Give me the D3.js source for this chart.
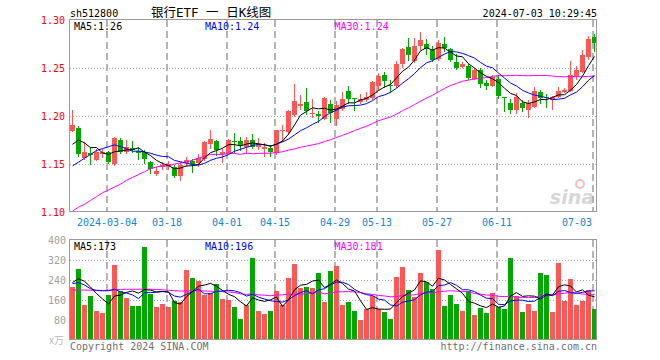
<!DOCTYPE html>
<html><head><meta charset="utf-8">
<script src="https://cdn.jsdelivr.net/npm/d3@7/dist/d3.min.js"></script>
<style>body{margin:0;background:#fff}svg{display:block}</style>
</head><body><svg id="c" width="660" height="360"></svg>
<script>
// ---- data ----
const opens = [1.184,1.187,1.156,1.161,1.154,1.160,1.162,1.150,1.175,1.163,1.167,1.164,1.162,1.152,1.140,1.147,1.148,1.147,1.137,1.151,1.153,1.151,1.155,1.171,1.174,1.160,1.161,1.174,1.174,1.168,1.175,1.168,1.1656,1.167,1.161,1.184,1.183,1.201,1.210,1.215,1.203,1.202,1.197,1.212,1.197,1.207,1.226,1.219,1.215,1.217,1.219,1.231,1.243,1.232,1.231,1.254,1.272,1.257,1.273,1.275,1.269,1.259,1.275,1.270,1.256,1.251,1.2524,1.2385,1.248,1.234,1.2316,1.239,1.2195,1.214,1.206,1.214,1.206,1.2097,1.225,1.2197,1.2167,1.2201,1.2247,1.226,1.242,1.246,1.261,1.2826];
const highs = [1.206,1.190,1.173,1.168,1.166,1.166,1.164,1.178,1.177,1.175,1.174,1.168,1.165,1.153,1.147,1.152,1.153,1.149,1.152,1.157,1.155,1.160,1.174,1.185,1.175,1.166,1.176,1.182,1.178,1.178,1.181,1.177,1.172,1.170,1.185,1.191,1.206,1.233,1.222,1.229,1.218,1.205,1.220,1.217,1.216,1.225,1.231,1.219,1.223,1.225,1.236,1.2445,1.246,1.238,1.257,1.271,1.281,1.281,1.288,1.280,1.273,1.279,1.2826,1.2705,1.265,1.256,1.2538,1.2497,1.2497,1.2375,1.243,1.243,1.220,1.218,1.2236,1.2167,1.2167,1.2306,1.227,1.2226,1.221,1.2306,1.2295,1.257,1.2524,1.2688,1.2837,1.2851];
const lows = [1.183,1.157,1.154,1.149,1.153,1.156,1.150,1.148,1.160,1.160,1.161,1.154,1.150,1.140,1.138,1.144,1.144,1.135,1.132,1.147,1.141,1.147,1.153,1.166,1.158,1.151,1.160,1.161,1.164,1.160,1.166,1.165,1.157,1.157,1.159,1.173,1.180,1.199,1.206,1.201,1.198,1.193,1.196,1.193,1.190,1.205,1.213,1.205,1.212,1.215,1.217,1.227,1.229,1.224,1.229,1.250,1.257,1.255,1.269,1.2635,1.2566,1.257,1.267,1.2566,1.248,1.2497,1.2375,1.2375,1.229,1.227,1.230,1.218,1.204,1.202,1.202,1.2038,1.198,1.2087,1.213,1.208,1.206,1.219,1.2236,1.2253,1.2375,1.2444,1.2583,1.2663];
const closes = [1.191,1.160,1.163,1.159,1.163,1.163,1.152,1.177,1.163,1.168,1.165,1.161,1.155,1.145,1.143,1.149,1.150,1.138,1.149,1.154,1.150,1.156,1.173,1.176,1.165,1.162,1.175,1.173,1.169,1.175,1.168,1.170,1.168,1.162,1.185,1.185,1.205,1.216,1.213,1.205,1.2035,1.200,1.219,1.203,1.211,1.218,1.218,1.218,1.218,1.220,1.235,1.242,1.236,1.231,1.254,1.270,1.2635,1.273,1.279,1.270,1.258,1.276,1.2705,1.258,1.250,1.254,1.240,1.248,1.233,1.2316,1.241,1.221,1.2185,1.206,1.220,1.208,1.2132,1.226,1.219,1.2187,1.2201,1.226,1.227,1.2427,1.248,1.264,1.280,1.2757];
const volumes = [211,284,140,176,116,107,180,300,196,169,136,136,372,184,132,144,132,157,153,280,248,237,180,187,224,164,160,132,84,140,328,116,104,116,196,140,248,304,208,211,208,268,152,276,296,140,153,116,80,123,176,124,112,84,252,292,200,172,268,232,204,360,136,180,144,116,196,100,128,108,188,132,124,328,176,112,144,116,268,260,112,308,156,244,140,156,200,124];

const tickIndex = [6,16,26,34,44,51,61,71,87];
const tickLabels = ["2024-03-04","03-18","04-01","04-15","04-29","05-13","05-27","06-11","07-03"];
const priceTicks = [1.10,1.15,1.20,1.25,1.30];
const volTicks = [80,160,240,320,400];

// moving-average values at the start of the window
const ma5Lead = [1.1705,1.175,1.172,1.167];
const ma10Lead = [1.148,1.152,1.156,1.160,1.164,1.166,1.168,1.170,1.168];
const ma30Lead = [1.101,1.105,1.108,1.112,1.116,1.120,1.123,1.126,1.129,1.133,1.136,1.139,1.142,1.145,1.147,1.148,1.148,1.150,1.151,1.152,1.154,1.156,1.158,1.160,1.160,1.160,1.161,1.161,1.160];
const volMa5Lead = [230,245,235,212];
const volMa10Lead = [225,230,220,205,198,197,197,203,193];
const volMa30Lead = [200,200,200,199,199,198,199,201,202,203,203,203,204,203,202,201,199,197,196,196,197,197,196,195,194,193,192,190,185];

const priceMaLabels = ["MA5:1.26","MA10:1.24","MA30:1.24"];
const volMaLabels = ["MA5:173","MA10:196","MA30:181"];

// ---- drawing ----
const RED = "#ff5656", GREEN = "#00a800";
const MONO = "'DejaVu Sans Mono','Liberation Mono',monospace";
const maColors = ["#000000","#0000ff","#ff00ff"];
const n = closes.length;
const svg = d3.select("#c");

function movingAvg(vals, w, lead) {
  return vals.map((v, i) => i < lead.length ? lead[i] : d3.mean(vals.slice(i - w + 1, i + 1)));
}

const L = 70, R = 597;
const x = d3.scaleLinear().domain([0, n - 1]).range([72.5, 72.5 + 6 * (n - 1)]);
const y = d3.scaleLinear().domain([1.10, 1.30]).range([212, 20]);
const yv = d3.scaleLinear().domain([0, 400]).range([340, 240]);

function panel(top, bottom, hTicks, yScale) {
  const g = svg.append("g");
  g.selectAll("line.h").data(hTicks).enter().append("line")
    .attr("x1", L).attr("x2", R)
    .attr("y1", d => Math.floor(yScale(d)) + 0.5).attr("y2", d => Math.floor(yScale(d)) + 0.5)
    .attr("stroke", "#a8a8a8").attr("stroke-dasharray", "1,2");
  g.selectAll("line.v").data(tickIndex).enter().append("line")
    .attr("x1", d => x(d) - 1.5).attr("x2", d => x(d) - 1.5)
    .attr("y1", top).attr("y2", bottom)
    .attr("stroke", "#b4b4b4").attr("stroke-width", 2).attr("stroke-dasharray", "7,4");
  return g;
}

panel(20, 212, [1.15, 1.20, 1.25], y);
panel(240, 340, [80, 160, 240, 320], yv);

// sina watermark
const wm = svg.append("g").attr("opacity", 0.55);
wm.append("circle").attr("cx", 580).attr("cy", 184).attr("r", 4).attr("fill", "none").attr("stroke", "#f08a8a").attr("stroke-width", 2);
wm.append("text").attr("x", 594).attr("y", 204).attr("text-anchor", "end")
  .attr("font-family", "Verdana, 'DejaVu Sans', sans-serif").attr("font-size", 19).attr("font-style", "italic").attr("font-weight", "bold")
  .attr("fill", "#b8b8b8").text("sina");

// candles
const up = i => closes[i] >= opens[i];
const cg = svg.append("g");
cg.selectAll("line").data(d3.range(n)).enter().append("line")
  .attr("x1", i => x(i)).attr("x2", i => x(i))
  .attr("y1", i => Math.round(y(highs[i]))).attr("y2", i => Math.round(y(lows[i])))
  .attr("stroke", i => up(i) ? RED : GREEN).attr("stroke-width", 1);
cg.selectAll("rect").data(d3.range(n)).enter().append("rect")
  .attr("x", i => x(i) - 2.5).attr("width", 5)
  .attr("y", i => Math.round(y(Math.max(opens[i], closes[i]))))
  .attr("height", i => Math.max(1, Math.round(y(Math.min(opens[i], closes[i]))) - Math.round(y(Math.max(opens[i], closes[i])))))
  .attr("fill", i => up(i) ? RED : GREEN);

// price MAs
const priceMAs = [movingAvg(closes, 5, ma5Lead), movingAvg(closes, 10, ma10Lead), movingAvg(closes, 30, ma30Lead)];
const line = d3.line().x((d, i) => x(i)).y(d => y(d));
[2, 1, 0].forEach(k => {
  svg.append("path").attr("d", line(priceMAs[k])).attr("fill", "none")
    .attr("stroke", maColors[k]).attr("stroke-width", 1);
});

// volume bars
svg.append("g").selectAll("rect").data(d3.range(n)).enter().append("rect")
  .attr("x", i => x(i) - 2.5).attr("width", 5)
  .attr("y", i => Math.round(yv(volumes[i])))
  .attr("height", i => 340 - Math.round(yv(volumes[i])))
  .attr("fill", i => up(i) ? RED : GREEN);

const volMAs = [movingAvg(volumes, 5, volMa5Lead), movingAvg(volumes, 10, volMa10Lead), movingAvg(volumes, 30, volMa30Lead)];
const vline = d3.line().x((d, i) => x(i)).y(d => yv(d));
[2, 1, 0].forEach(k => {
  svg.append("path").attr("d", vline(volMAs[k])).attr("fill", "none")
    .attr("stroke", maColors[k]).attr("stroke-width", 1);
});

// borders
svg.append("rect").attr("x", L - 0.5).attr("y", 19.5).attr("width", R - L).attr("height", 192)
  .attr("fill", "none").attr("stroke", "#9a9a9a");
svg.append("rect").attr("x", L - 0.5).attr("y", 239.5).attr("width", R - L).attr("height", 100)
  .attr("fill", "none").attr("stroke", "#9a9a9a");

// axis labels via d3 axes
const pAxis = svg.append("g").attr("transform", `translate(${L - 2},0)`)
  .call(d3.axisLeft(y).tickValues(priceTicks).tickFormat(d3.format(".2f")).tickSize(0).tickPadding(3));
pAxis.select(".domain").remove();
pAxis.selectAll("text").attr("fill", "#ff0000").attr("font-family", MONO).attr("font-size", 10);

const vAxis = svg.append("g").attr("transform", `translate(${L - 1},0)`)
  .call(d3.axisLeft(yv).tickValues(volTicks).tickFormat(d3.format("d")).tickSize(0).tickPadding(3));
vAxis.select(".domain").remove();
vAxis.selectAll("text").attr("fill", "#a0a0a0").attr("font-family", MONO).attr("font-size", 10);

// date labels
svg.append("g").selectAll("text").data(tickIndex).enter().append("text")
  .attr("x", (d, k) => k === tickIndex.length - 1 ? 592 : x(d) - 1.5)
  .attr("y", 225.5)
  .attr("text-anchor", (d, k) => k === tickIndex.length - 1 ? "end" : "middle")
  .attr("font-family", MONO).attr("font-size", 10).attr("fill", "#1585d5")
  .text((d, k) => tickLabels[k]);

// header texts
function txt(s, xx, yy, fill, anchor, size, fam) {
  return svg.append("text").attr("x", xx).attr("y", yy).attr("fill", fill)
    .attr("text-anchor", anchor || "start").attr("font-size", size || 10)
    .attr("font-family", fam || MONO).attr("xml:space", "preserve").style("white-space", "pre").text(s);
}
txt("sh512800", 70, 16.5, "#000");
txt("银行ETF 一 日K线图", 151, 16.5, "#000", "start", 12.5, "'DejaVu Sans Mono','Noto Sans CJK SC', sans-serif");
txt("2024-07-03 10:29:45", 597, 16.5, "#000", "end");
const maX = [74, 205, 334.5];
priceMaLabels.forEach((s, k) => txt(s, maX[k], 30, maColors[k]));
volMaLabels.forEach((s, k) => txt(s, maX[k], 249.5, maColors[k]));
txt("x万", 64, 344, "#bbbbbb", "end", 10, "'Noto Sans CJK SC', sans-serif");
txt("Copyright 2024 SINA.COM", 70, 349.5, "#707070");
txt("http://finance.sina.com.cn", 597, 349.5, "#707070", "end");
</script></body></html>
